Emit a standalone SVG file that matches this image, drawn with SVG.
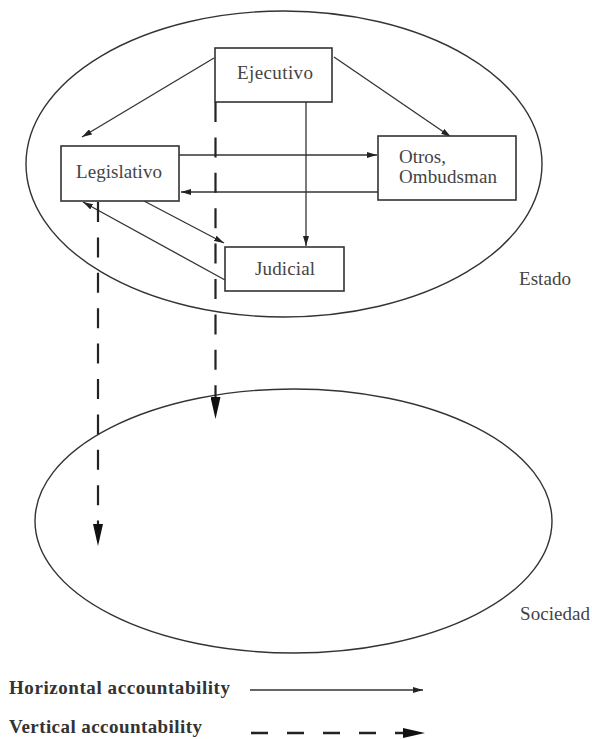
<svg xmlns="http://www.w3.org/2000/svg" width="592" height="739" viewBox="0 0 592 739">
<style>
.bg{fill:#fff}
.ell{fill:none;stroke:#333;stroke-width:1.4}
.box{fill:#fff;stroke:#333;stroke-width:1.6}
.lbl{font-family:"Liberation Serif","Times New Roman",serif;font-size:19px;fill:#444}
.leg{font-family:"Liberation Serif","Times New Roman",serif;font-size:19px;font-weight:bold;fill:#333}
.h{fill:none;stroke:#333;stroke-width:1.3;marker-end:url(#ah)}
.v{fill:none;stroke:#222;stroke-width:2.2;stroke-dasharray:20 15.4;marker-end:url(#av)}
</style>
<defs>
<marker id="ah" markerUnits="userSpaceOnUse" viewBox="0 0 10 6" refX="10" refY="3" markerWidth="10" markerHeight="6" orient="auto">
<path d="M0,0 L10,3 L0,6 Z" fill="#222"/>
</marker>
<marker id="av" markerUnits="userSpaceOnUse" viewBox="0 0 22 10" refX="22" refY="5" markerWidth="22" markerHeight="10" orient="auto">
<path d="M0,0 L22,5 L0,10 Z" fill="#111"/>
</marker>
</defs>
<rect class="bg" x="0" y="0" width="592" height="739"/>
<g id="estado">
<ellipse class="ell" cx="284" cy="164" rx="258" ry="153"/>
<text class="lbl" x="519" y="285" textLength="52">Estado</text>
</g>
<g id="sociedad">
<ellipse class="ell" cx="293.5" cy="521" rx="258.5" ry="132"/>
<text class="lbl" x="520" y="620" textLength="70">Sociedad</text>
</g>
<g id="connectors">
<line class="h" x1="214" y1="58" x2="82" y2="137"/>
<line class="h" x1="334" y1="57" x2="451" y2="137"/>
<line class="h" x1="179" y1="155" x2="377" y2="155"/>
<line class="h" x1="378" y1="192" x2="181" y2="192"/>
<line class="h" x1="306" y1="102" x2="306" y2="246"/>
<line class="h" x1="144" y1="201" x2="224" y2="243"/>
<line class="h" x1="225" y1="280" x2="83" y2="202"/>
<line class="v" x1="215.5" y1="102" x2="215.5" y2="419"/>
<line class="v" x1="98" y1="202" x2="98" y2="546"/>
</g>
<g id="ejecutivo">
<rect class="box" x="215" y="48" width="117" height="54"/>
<text class="lbl" x="237" y="79" textLength="76">Ejecutivo</text>
</g>
<g id="legislativo">
<rect class="box" x="61" y="146" width="118" height="55"/>
<text class="lbl" x="76" y="178" textLength="86">Legislativo</text>
</g>
<g id="otros">
<rect class="box" x="378" y="136" width="138" height="64"/>
<text class="lbl" x="399" y="163" textLength="47">Otros,</text>
<text class="lbl" x="399" y="183" textLength="98">Ombudsman</text>
</g>
<g id="judicial">
<rect class="box" x="225" y="247" width="119" height="44"/>
<text class="lbl" x="255" y="275" textLength="60">Judicial</text>
</g>
<g id="legend">
<text class="leg" x="9" y="694" textLength="221">Horizontal accountability</text>
<line class="h" x1="250" y1="690" x2="423" y2="690"/>
<text class="leg" x="9" y="733" textLength="193">Vertical accountability</text>
<line class="v" x1="251" y1="733" x2="425" y2="733" style="stroke-dasharray:17 19;stroke-width:2.6"/>
</g>
</svg>
